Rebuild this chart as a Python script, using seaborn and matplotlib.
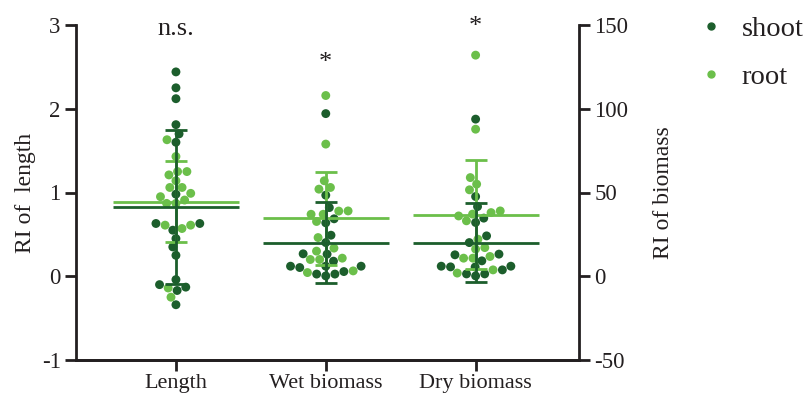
import numpy as np
import pandas as pd
import seaborn as sns
import matplotlib.pyplot as plt
from matplotlib.lines import Line2D

# data (Length on left axis, biomass on right axis)
categories = ['Length', 'Wet biomass', 'Dry biomass']
tissues = ['shoot', 'root']

length_shoot = [2.44, 2.25, 2.12, 1.81, 1.70, 1.60, 0.98, 0.63, 0.63, 0.55,
                0.45, 0.35, 0.25, -0.04, -0.10, -0.13, -0.17, -0.34]
length_root = [1.63, 1.43, 1.25, 1.25, 1.21, 1.14, 1.06, 1.06, 0.99, 0.95,
               0.91, 0.87, 0.87, 0.61, 0.61, 0.57, -0.14, -0.25]

wet_shoot = [97.1, 48.4, 41.0, 34.3, 31.9, 24.5, 20.1, 13.4, 13.2, 9.0,
             6.0, 5.2, 6.0, 6.0, 2.8, 1.3, 0.2, 1.3]
wet_root = [107.9, 78.9, 57.0, 53.0, 52.0, 39.0, 37.0, 38.9, 37.0, 32.7,
            23.1, 16.8, 15.0, 10.8, 10.0, 10.0, 2.2, 3.2]

dry_shoot = [93.8, 47.6, 41.6, 34.7, 32.1, 24.1, 20.1, 13.2, 12.8, 9.2,
             6.0, 5.5, 5.6, 6.0, 3.8, 1.4, 0.2, 1.4]
dry_root = [132.0, 87.8, 58.9, 55.0, 51.6, 37.1, 39.0, 38.0, 36.0, 33.1,
            22.1, 16.2, 17.1, 11.8, 10.8, 10.8, 1.9, 3.8]

sig_labels = ['n.s.', '*', '*']

colors = {'shoot': '#1c5e2c', 'root': '#6bbf4a'}


def long_form(trait, shoot, root):
    return pd.DataFrame({
        'trait': [trait] * (len(shoot) + len(root)),
        'tissue': ['shoot'] * len(shoot) + ['root'] * len(root),
        'value': list(shoot) + list(root),
    })


len_df = long_form('Length', length_shoot, length_root)
bio_df = pd.concat([long_form('Wet biomass', wet_shoot, wet_root),
                    long_form('Dry biomass', dry_shoot, dry_root)])

plt.rcParams['font.family'] = ['Liberation Serif', 'DejaVu Serif']
plt.rcParams['axes.linewidth'] = 2
plt.rcParams['axes.unicode_minus'] = False
text_col = '#231f20'

fig = plt.figure(figsize=(8.12, 3.98), dpi=100)
ax = fig.add_axes([76 / 812, 1 - 360 / 398, (579 - 76) / 812, (360 - 25) / 398])
ax2 = ax.twinx()

# swarms (shoot and root share one swarm per column)
sns.swarmplot(data=len_df, x='trait', y='value', hue='tissue', order=categories,
              hue_order=tissues, palette=colors, dodge=False, size=6.4,
              linewidth=0, legend=False, ax=ax, zorder=2)
sns.swarmplot(data=bio_df, x='trait', y='value', hue='tissue', order=categories,
              hue_order=tissues, palette=colors, dodge=False, size=6.4,
              linewidth=0, legend=False, ax=ax2, zorder=2)


# mean line + SD error bar for each tissue
def mean_sd(axis, df):
    stats = df.groupby(['trait', 'tissue'])['value'].agg(['mean', 'std'])
    for (trait, tissue), row in stats.iterrows():
        xpos = categories.index(trait)
        c = colors[tissue]
        axis.hlines(row['mean'], xpos - 0.42, xpos + 0.42, color=c, lw=2, zorder=3)
        axis.errorbar(xpos, row['mean'], yerr=row['std'], color=c, lw=2,
                      capsize=8, capthick=2, zorder=3)


mean_sd(ax, len_df)
mean_sd(ax2, bio_df)

ax.set_ylim(-1, 3)
ax.set_yticks([-1, 0, 1, 2, 3])
ax2.set_ylim(-50, 150)
ax2.set_yticks([-50, 0, 50, 100, 150])
ax.set_xlim(-0.667, 2.69)
ax.set_xticks(range(len(categories)))
ax.set_xticklabels(categories)

ax.set_xlabel('')
ax.set_ylabel('RI of  length', fontsize=17, color=text_col, labelpad=4)
ax2.set_xlabel('')
ax2.set_ylabel('RI of biomass', fontsize=17, color=text_col, labelpad=18)

for a in (ax, ax2):
    a.spines['top'].set_visible(False)
    a.tick_params(axis='both', direction='out', length=8, width=2,
                  labelsize=16.5, colors=text_col, pad=3)
    for s in ('left', 'right', 'bottom'):
        a.spines[s].set_color(text_col)
ax.tick_params(axis='x', pad=2, labelsize=16)
ax.spines['right'].set_visible(False)
ax2.spines['left'].set_visible(False)

# significance marks above each column
sig_y = [2.95, 2.55, 2.98]
for i, lab in enumerate(sig_labels):
    ax.text(i, sig_y[i], lab, ha='center', va='center', fontsize=19,
            color=text_col)

handles = [Line2D([], [], marker='o', ls='', color=colors[t], markersize=5)
           for t in tissues]
fig.legend(handles, tissues, loc='upper left', bbox_to_anchor=(0.826, 1.025),
           frameon=False, fontsize=20.5, handletextpad=0.6, labelspacing=0.8,
           handlelength=1.0, labelcolor=text_col)

fig.savefig('out.png', dpi=100)
